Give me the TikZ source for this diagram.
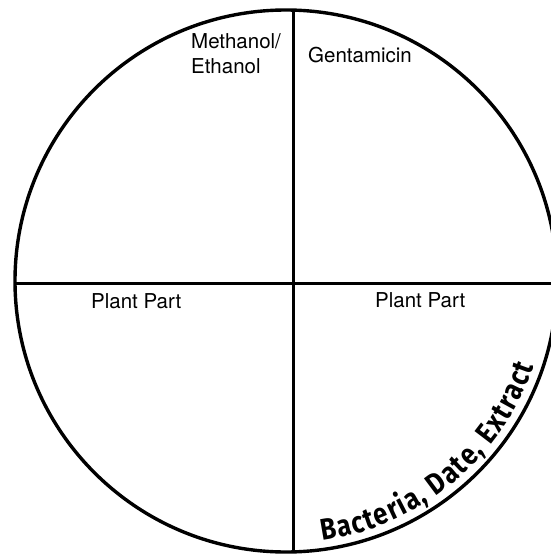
\documentclass[tikz,border=0pt]{standalone}
\usepackage{fontspec}
\setmainfont{TeX Gyre Heros}
\newfontfamily\handfont[FakeStretch=0.85]{Fira Sans}
\usetikzlibrary{decorations.text}
\tikzset{
	plate/.style = {line width = 3.4pt},
	divider/.style = {line width = 3pt},
	platetext/.style = {anchor = base west, inner sep = 0pt}
}
\begin{document}
\begin{tikzpicture} [x = 1pt, y = 1pt, font = \fontsize{20.5}{25}\selectfont]
	\useasboundingbox (0,0) rectangle (551,-554);
	\clip (0,0) rectangle (551,-554);
	% petri dish
	\draw [plate] (286,-281) circle (271);
	\draw [divider] (15,-283) -- (557,-283);
	\draw [divider] (293,-10) -- (293,-552);
	% quadrant labels
	\node (meth) [platetext] at (191,-48) {Methanol/};
	\node (eth) [platetext] at (191,-73) {Ethanol};
	\node (gent) [platetext] at (308,-62) {Gentamicin};
	\node (partl) [platetext] at (91,-308) {Plant Part};
	\node (partr) [platetext] at (375,-307) {Plant Part};
	% handwritten note along the rim
	\path [shift = {(286,-281)}, decorate, decoration = {text along path, text align = fit to path,
		text = {|\handfont\bfseries\fontsize{30}{30}\selectfont|Bacteria, Date, Extract}}]
		(-82:262) arc (-82:-19:262);
	%\draw [red] (286,-281) circle (262);
\end{tikzpicture}
\end{document}
